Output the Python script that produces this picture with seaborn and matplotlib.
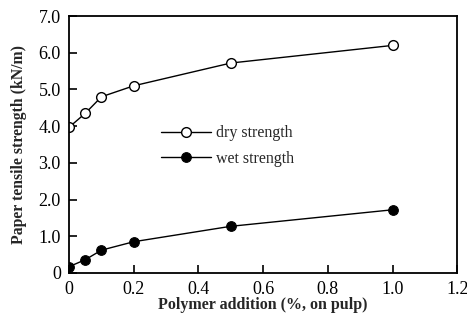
import matplotlib
matplotlib.use("Agg")
import matplotlib.pyplot as plt
import seaborn as sns
import pandas as pd

polymer = [0, 0.05, 0.1, 0.2, 0.5, 1.0]
dry_strength = [3.97, 4.35, 4.80, 5.10, 5.72, 6.20]
wet_strength = [0.17, 0.36, 0.62, 0.85, 1.27, 1.72]
x_ticks = [0, 0.2, 0.4, 0.6, 0.8, 1.0, 1.2]
x_tick_labels = ["0", "0.2", "0.4", "0.6", "0.8", "1.0", "1.2"]
y_ticks = [0, 1, 2, 3, 4, 5, 6, 7]
y_tick_labels = ["0", "1.0", "2.0", "3.0", "4.0", "5.0", "6.0", "7.0"]

sns.set_style("ticks")
plt.rcParams['font.family'] = ['Liberation Serif', 'DejaVu Serif']

df = pd.DataFrame({
    "x": polymer * 2,
    "y": dry_strength + wet_strength,
    "series": ["dry strength"] * len(polymer) + ["wet strength"] * len(polymer),
})

fig = plt.figure(figsize=(4.67, 3.28), dpi=100)
ax = fig.add_axes([0.148, 0.168, 0.831, 0.783])

sns.lineplot(data=df[df.series == "dry strength"], x="x", y="y", ax=ax,
             color="black", lw=1.0, marker="o", markersize=7,
             markerfacecolor="white", markeredgecolor="black", markeredgewidth=1.0,
             label="dry strength")
sns.lineplot(data=df[df.series == "wet strength"], x="x", y="y", ax=ax,
             color="black", lw=1.0, marker="o", markersize=7,
             markerfacecolor="black", markeredgecolor="black",
             label="wet strength")

ax.set_xlim(0, 1.2)
ax.set_ylim(0, 7)
ax.set_xticks(x_ticks)
ax.set_xticklabels(x_tick_labels)
ax.set_yticks(y_ticks)
ax.set_yticklabels(y_tick_labels)
ax.tick_params(direction="in", length=6, width=1.2, labelsize=13, colors="black", pad=6)
for s in ax.spines.values():
    s.set_linewidth(1.3)
    s.set_color("black")

ax.set_xlabel("Polymer addition (%, on pulp)", fontsize=11.5, fontweight="bold", labelpad=-1)
ax.set_ylabel("Paper tensile strength (kN/m)", fontsize=11.3, fontweight="bold", labelpad=8)

ax.legend(loc="upper left", bbox_to_anchor=(0.2, 0.63), frameon=False, fontsize=11.5,
          handlelength=3.1, handletextpad=0.35, labelspacing=0.6)

fig.savefig("out.png", dpi=100)
